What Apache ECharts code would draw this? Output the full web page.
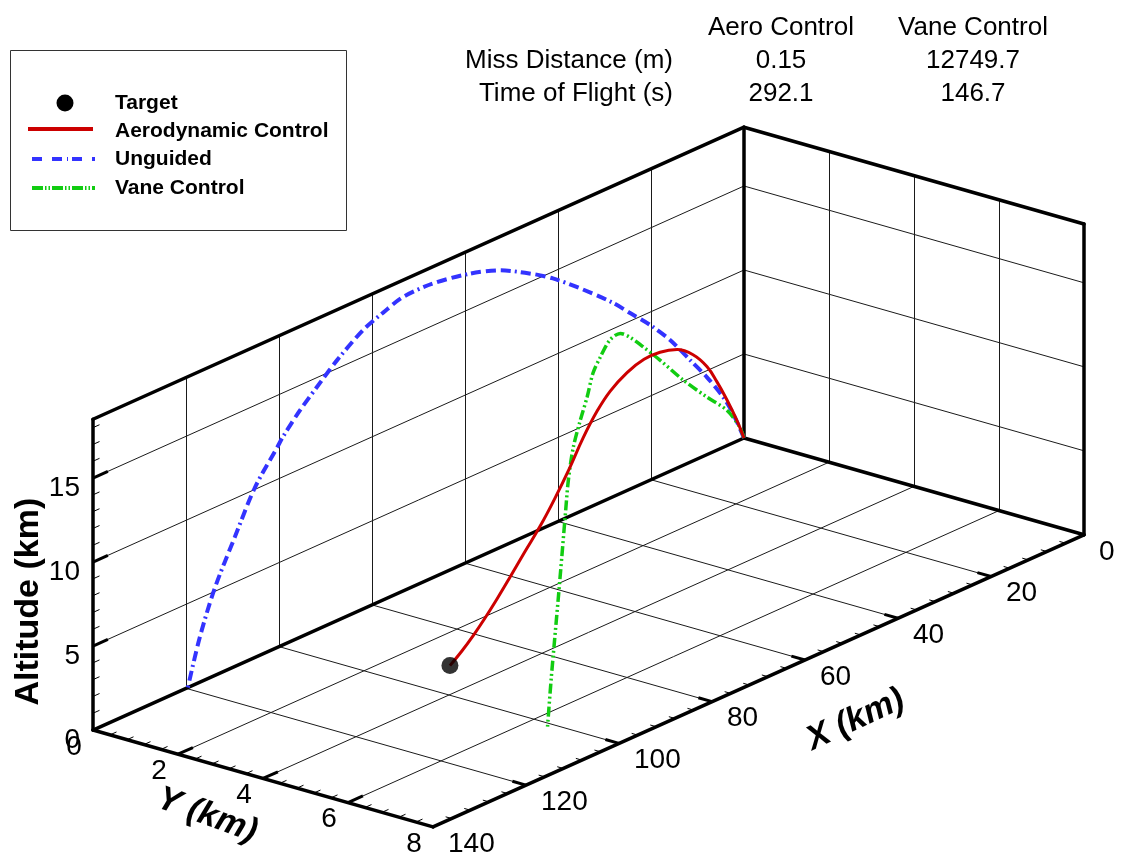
<!DOCTYPE html>
<html>
<head>
<meta charset="utf-8">
<title>Trajectory comparison</title>
<script src="https://cdn.jsdelivr.net/npm/echarts@6/dist/echarts.min.js"></script>
<style>
  html, body { margin: 0; padding: 0; background: #ffffff; }
  #chart { width: 1125px; height: 861px; }
</style>
</head>
<body>
<div id="chart"></div>
<script>
// ---------------- data (km) ----------------
// Unguided ballistic flight, stays in the Y = 0 plane
const unguidedX   = [0, 2.4, 4.5, 8.0, 11.6, 15.9, 20.2, 24.5, 28.2, 35.3, 41.1, 45.4, 52.5, 58.9, 66.9, 73.3, 77.6, 81.9, 87.5, 90.8, 95.5, 99.1, 100.4, 105.2, 109.5, 113.8, 117.0, 119.6];
const unguidedY   = [0, 0, 0, 0, 0, 0, 0, 0, 0, 0, 0, 0, 0, 0, 0, 0, 0, 0, 0, 0, 0, 0, 0, 0, 0, 0, 0, 0];
const unguidedAlt = [0, 1.78, 3.0, 4.62, 6.08, 7.81, 9.24, 10.48, 11.55, 13.3, 14.6, 15.4, 16.5, 17.1, 17.5, 17.5, 17.1, 16.6, 15.5, 14.7, 13.5, 12.4, 11.9, 10.1, 7.7, 5.2, 2.7, 0];

// Aerodynamic control
const aeroX   = [0, 2.2, 5.3, 8.4, 11.5, 15.8, 20.8, 26.1, 31.0, 36.3, 41.6, 45.6, 50.0, 54.0, 58.7, 63.3, 68.0, 72.6, 76.7, 80.4, 84.1, 87.5, 91.3];
const aeroY   = [0, 0.07, 0.18, 0.28, 0.39, 0.53, 0.70, 0.88, 1.04, 1.22, 1.40, 1.53, 1.68, 1.81, 1.97, 2.13, 2.28, 2.44, 2.58, 2.70, 2.83, 2.94, 3.07];
const aeroAlt = [0, 1.39, 3.05, 4.60, 5.95, 7.30, 8.35, 8.98, 9.28, 9.28, 8.95, 8.35, 7.40, 6.25, 5.10, 4.15, 3.30, 2.50, 1.80, 1.20, 0.72, 0.32, 0];

// Vane control
const vaneX   = [0, 2.1, 8.8, 19.1, 31.4, 43.3, 52.1, 58.8, 63.9, 69.1, 74.2, 77.8, 80.9, 84.5, 88.1, 90.7, 92.3, 93.8, 95.9, 97.9, 99.5, 101.5];
const vaneY   = [0, 0.13, 0.56, 1.22, 2.00, 2.76, 3.32, 3.75, 4.08, 4.41, 4.73, 4.96, 5.16, 5.39, 5.62, 5.79, 5.89, 5.98, 6.12, 6.25, 6.35, 6.48];
const vaneAlt = [0, 1.0, 3.15, 5.68, 8.8, 12.0, 14.3, 16.0, 17.1, 17.6, 17.4, 17.1, 16.2, 15.4, 14.4, 12.9, 11.0, 9.0, 6.7, 4.5, 2.6, 0];

// Target
const targetX   = [91.3];
const targetY   = [3.07];
const targetAlt = [0];

// Axis ranges and ticks
const xRange   = [0, 140];
const yRange   = [0, 8];
const altRange = [0, 18.5];
const xTicks   = [0, 20, 40, 60, 80, 100, 120, 140];
const yTicks   = [0, 2, 4, 6, 8];
const altTicks = [0, 5, 10, 15];
const xMinorStep = 4, yMinorStep = 0.4, altMinorStep = 1;

// Summary table
const tableHeader   = ['Aero Control', 'Vane Control'];
const tableRowNames = ['Miss Distance (m)', 'Time of Flight (s)'];
const missDistance  = ['0.15', '12749.7'];
const timeOfFlight  = ['292.1', '146.7'];

// Legend entries
const legendNames = ['Target', 'Aerodynamic Control', 'Unguided', 'Vane Control'];

// ---------------- view ----------------
const W = 1125, H = 861;
// orthographic camera: screen position of the origin and of one km along each axis
const VIEW = { origin: [744, 438], ex: [-4.65, 2.086], ey: [42.5, 12.1], ez: [0, -16.8] };
function proj(x, y, z) {
  return [
    VIEW.origin[0] + x * VIEW.ex[0] + y * VIEW.ey[0] + z * VIEW.ez[0],
    VIEW.origin[1] + x * VIEW.ex[1] + y * VIEW.ey[1] + z * VIEW.ez[1]
  ];
}
function seg(a, b) { return { coords: [proj(a[0], a[1], a[2]), proj(b[0], b[1], b[2])] }; }

const X0 = xRange[0], X1 = xRange[1], Y0 = yRange[0], Y1 = yRange[1], Z0 = altRange[0], Z1 = altRange[1];
const FONT = '"Liberation Sans", Arial, Helvetica, sans-serif';

// grid lines on the two back walls and the floor
const inner = arr => arr.filter((v, i) => i > 0 && i < arr.length - 1);
const gridSegs = [];
inner(xTicks).forEach(x => {
  gridSegs.push(seg([x, Y0, Z0], [x, Y0, Z1]));
  gridSegs.push(seg([x, Y0, Z0], [x, Y1, Z0]));
});
inner(yTicks).forEach(y => {
  gridSegs.push(seg([X0, y, Z0], [X0, y, Z1]));
  gridSegs.push(seg([X0, y, Z0], [X1, y, Z0]));
});
altTicks.filter(z => z > Z0).forEach(z => {
  gridSegs.push(seg([X0, Y0, z], [X1, Y0, z]));
  gridSegs.push(seg([X0, Y0, z], [X0, Y1, z]));
});

// box outline
const boxSegs = [
  seg([X1, Y0, Z0], [X0, Y0, Z0]),
  seg([X1, Y0, Z0], [X1, Y0, Z1]),
  seg([X1, Y0, Z1], [X0, Y0, Z1]),
  seg([X0, Y0, Z0], [X0, Y0, Z1]),
  seg([X0, Y0, Z1], [X0, Y1, Z1]),
  seg([X0, Y1, Z1], [X0, Y1, Z0]),
  seg([X0, Y0, Z0], [X0, Y1, Z0]),
  seg([X1, Y0, Z0], [X1, Y1, Z0]),
  seg([X1, Y1, Z0], [X0, Y1, Z0])
];

// tick marks
const majorTickSegs = [], minorTickSegs = [];
const isMajor = (v, ticks) => ticks.some(t => Math.abs(t - v) < 1e-6);
inner(xTicks).forEach(x => majorTickSegs.push(seg([x, Y1, Z0], [x, Y1 - 0.32, Z0])));
for (let x = X0 + xMinorStep; x < X1 - 1e-6; x += xMinorStep) {
  if (!isMajor(x, xTicks)) minorTickSegs.push(seg([x, Y1, Z0], [x, Y1 - 0.14, Z0]));
}
inner(yTicks).forEach(y => majorTickSegs.push(seg([X1, y, Z0], [X1 - 3.2, y, Z0])));
for (let y = Y0 + yMinorStep; y < Y1 - 1e-6; y += yMinorStep) {
  if (!isMajor(y, yTicks)) minorTickSegs.push(seg([X1, y, Z0], [X1 - 1.4, y, Z0]));
}
altTicks.filter(z => z > Z0).forEach(z => majorTickSegs.push(seg([X1, Y0, z], [X1 - 3.2, Y0, z])));
for (let z = Z0 + altMinorStep; z < Z1 - 1e-6; z += altMinorStep) {
  if (!isMajor(z, altTicks)) minorTickSegs.push(seg([X1, Y0, z], [X1 - 1.4, Y0, z]));
}

// text placed at projected positions
const textItems = [];
altTicks.forEach(z => textItems.push({ p: proj(X1, Y0, z), text: String(z), dx: -13, dy: 10, align: 'right', font: '28px ' + FONT }));
yTicks.forEach(y => textItems.push({ p: proj(X1, y, Z0), text: String(y), dx: -19, dy: 17, align: 'center', font: '28px ' + FONT }));
xTicks.forEach(x => textItems.push({ p: proj(x, Y1, Z0), text: String(x), dx: 15, dy: 17, align: 'left', font: '28px ' + FONT }));
textItems.push({ p: proj(X1, Y0, (Z0 + Z1) / 2), text: 'Altitude (km)', dx: -64, dy: 27, align: 'center', rot: Math.PI / 2, font: 'bold 34px ' + FONT });
textItems.push({ p: proj(X1, (Y0 + Y1) / 2, Z0), text: 'Y (km)', dx: -56, dy: 37, align: 'center', rot: -20 * Math.PI / 180, font: 'italic bold 34px ' + FONT });
textItems.push({ p: proj((X0 + X1) / 2, Y1, Z0), text: 'X (km)', dx: 97, dy: 39, align: 'center', rot: 25 * Math.PI / 180, font: 'italic bold 34px ' + FONT });

const track = (xs, ys, zs) => xs.map((x, i) => proj(x, ys[i], zs[i]));

// ---------------- chart ----------------
const chart = echarts.init(document.getElementById('chart'), null, { renderer: 'canvas', width: W, height: H });

const lineLike = { coordinateSystem: 'cartesian2d', polyline: false, silent: true, animation: false, effect: { show: false } };

const option = {
  backgroundColor: '#ffffff',
  animation: false,
  grid: { left: 0, right: 0, top: 0, bottom: 0, containLabel: false },
  xAxis: { type: 'value', min: 0, max: W, show: false },
  yAxis: { type: 'value', min: 0, max: H, inverse: true, show: false },
  series: [
    Object.assign({ type: 'lines', name: 'grid', data: gridSegs, z: 1, lineStyle: { color: '#1a1a1a', width: 1, opacity: 1 } }, lineLike),
    Object.assign({ type: 'lines', name: 'box', data: boxSegs, z: 2, lineStyle: { color: '#000000', width: 3.5, opacity: 1, cap: 'round' } }, lineLike),
    Object.assign({ type: 'lines', name: 'majorTicks', data: majorTickSegs, z: 2, lineStyle: { color: '#000000', width: 3, opacity: 1 } }, lineLike),
    Object.assign({ type: 'lines', name: 'minorTicks', data: minorTickSegs, z: 2, lineStyle: { color: '#000000', width: 1, opacity: 1 } }, lineLike),
    {
      type: 'line', name: legendNames[2], data: track(unguidedX, unguidedY, unguidedAlt),
      showSymbol: false, symbol: 'none', smooth: 0.3, z: 4, silent: true,
      lineStyle: { color: '#3333ff', width: 4, type: [10, 5, 10, 5, 10, 4, 2, 4], cap: 'butt' }
    },
    {
      type: 'line', name: legendNames[3], data: track(vaneX, vaneY, vaneAlt),
      showSymbol: false, symbol: 'none', smooth: 0.3, z: 5, silent: true,
      lineStyle: { color: '#11cc11', width: 3.5, type: [10, 3, 2, 3, 2, 3], cap: 'butt' }
    },
    {
      type: 'line', name: legendNames[1], data: track(aeroX, aeroY, aeroAlt),
      showSymbol: false, symbol: 'none', smooth: 0.4, z: 6, silent: true,
      lineStyle: { color: '#cc0000', width: 3 }
    },
    {
      type: 'scatter', name: legendNames[0], data: track(targetX, targetY, targetAlt),
      symbol: 'circle', symbolSize: 17, z: 7, silent: true,
      itemStyle: { color: '#000000' }
    },
    {
      type: 'custom', name: 'labels', coordinateSystem: 'cartesian2d', silent: true, z: 8,
      data: textItems.map(t => [t.p[0], t.p[1]]),
      renderItem: function (params, api) {
        const t = textItems[params.dataIndex];
        const c = api.coord([api.value(0), api.value(1)]);
        return {
          type: 'text', x: c[0] + t.dx, y: c[1] + t.dy, rotation: t.rot || 0,
          style: { text: t.text, font: t.font, fill: '#000000', align: t.align, verticalAlign: 'middle' }
        };
      }
    }
  ],
  graphic: [
    // summary table
    { type: 'text', x: 781, y: 28, style: { text: tableHeader[0], font: '26px ' + FONT, fill: '#000', align: 'center', verticalAlign: 'middle' } },
    { type: 'text', x: 973, y: 28, style: { text: tableHeader[1], font: '26px ' + FONT, fill: '#000', align: 'center', verticalAlign: 'middle' } },
    { type: 'text', x: 673, y: 61, style: { text: tableRowNames[0], font: '26px ' + FONT, fill: '#000', align: 'right', verticalAlign: 'middle' } },
    { type: 'text', x: 673, y: 94, style: { text: tableRowNames[1], font: '26px ' + FONT, fill: '#000', align: 'right', verticalAlign: 'middle' } },
    { type: 'text', x: 781, y: 61, style: { text: missDistance[0], font: '26px ' + FONT, fill: '#000', align: 'center', verticalAlign: 'middle' } },
    { type: 'text', x: 973, y: 61, style: { text: missDistance[1], font: '26px ' + FONT, fill: '#000', align: 'center', verticalAlign: 'middle' } },
    { type: 'text', x: 781, y: 94, style: { text: timeOfFlight[0], font: '26px ' + FONT, fill: '#000', align: 'center', verticalAlign: 'middle' } },
    { type: 'text', x: 973, y: 94, style: { text: timeOfFlight[1], font: '26px ' + FONT, fill: '#000', align: 'center', verticalAlign: 'middle' } },
    // legend
    { type: 'rect', shape: { x: 10.5, y: 50.5, width: 336, height: 180 }, style: { fill: '#ffffff', stroke: '#333333', lineWidth: 1 }, z: 20 },
    { type: 'circle', shape: { cx: 65, cy: 103, r: 8.5 }, style: { fill: '#000000' }, z: 21 },
    { type: 'line', shape: { x1: 28, y1: 129, x2: 93, y2: 129 }, style: { stroke: '#cc0000', lineWidth: 4 }, z: 21 },
    { type: 'line', shape: { x1: 32, y1: 159, x2: 95, y2: 159 }, style: { stroke: '#3333ff', lineWidth: 4, lineDash: [10, 10, 10, 5, 1, 4] }, z: 21 },
    { type: 'line', shape: { x1: 32, y1: 188, x2: 95, y2: 188 }, style: { stroke: '#11cc11', lineWidth: 4, lineDash: [11, 2, 1.5, 2, 1.5, 2] }, z: 21 },
    { type: 'text', x: 115, y: 103, style: { text: legendNames[0], font: 'bold 21px ' + FONT, fill: '#000', align: 'left', verticalAlign: 'middle' }, z: 21 },
    { type: 'text', x: 115, y: 131, style: { text: legendNames[1], font: 'bold 21px ' + FONT, fill: '#000', align: 'left', verticalAlign: 'middle' }, z: 21 },
    { type: 'text', x: 115, y: 159, style: { text: legendNames[2], font: 'bold 21px ' + FONT, fill: '#000', align: 'left', verticalAlign: 'middle' }, z: 21 },
    { type: 'text', x: 115, y: 188, style: { text: legendNames[3], font: 'bold 21px ' + FONT, fill: '#000', align: 'left', verticalAlign: 'middle' }, z: 21 }
  ]
};

chart.setOption(option);
</script>
</body>
</html>
